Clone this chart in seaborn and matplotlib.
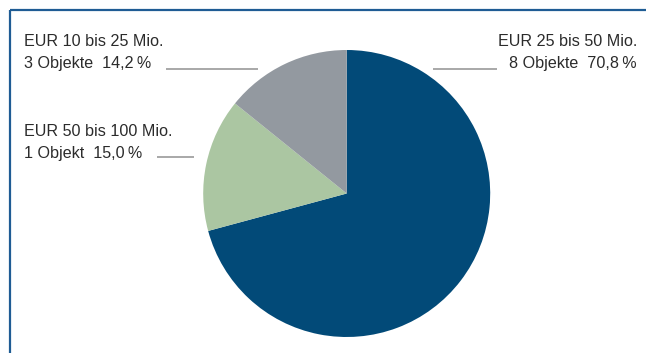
import matplotlib
matplotlib.use("Agg")
import matplotlib.pyplot as plt
import seaborn as sns

# Style
sns.set_theme(style="white")
plt.rcParams['font.family'] = ['Liberation Sans', 'DejaVu Sans']

# Data
categories = ["EUR 25 bis 50 Mio.", "EUR 50 bis 100 Mio.", "EUR 10 bis 25 Mio."]
objects = ["8 Objekte", "1 Objekt", "3 Objekte"]
shares = [70.8, 15.0, 14.2]
colors = ["#024a78", "#abc6a2", "#9399a0"]

W, H = 646, 353
fig = plt.figure(figsize=(W / 100, H / 100), dpi=100)
ax = fig.add_axes([0, 0, 1, 1])

# pie in pixel coordinates (y measured from bottom)
ax.pie(shares, colors=colors, startangle=90, counterclock=False,
       center=(346.7, H - 193.5), radius=143.5,
       wedgeprops=dict(linewidth=0))
ax.set_xlim(0, W)
ax.set_ylim(0, H)
ax.set_aspect('auto')
ax.axis('off')

# frame lines (top and left)
frame_col = "#1f5c94"
ax.plot([9.5, W], [H - 9.5, H - 9.5], color=frame_col, lw=1.6, solid_capstyle='butt')
ax.plot([9.5, 9.5], [0, H - 9.5], color=frame_col, lw=1.6, solid_capstyle='butt')


def label_text(i):
    pct = f"{shares[i]:.1f}".replace('.', ',')
    return f"{categories[i]}\n{objects[i]}  {pct}\u2009%"


txt_kw = dict(fontsize=11.6, color="#2b2b2b", linespacing=1.55, va='baseline')
line_kw = dict(color="#9a9a9a", lw=1.2, solid_capstyle='butt')

# EUR 25 bis 50 Mio. (right)
ax.text(637, H - 68, label_text(0), ha='right', multialignment='right', **txt_kw)
ax.plot([433, 497], [H - 68.5, H - 68.5], **line_kw)

# EUR 50 bis 100 Mio. (left, lower)
ax.text(24, H - 158, label_text(1), ha='left', **txt_kw)
ax.plot([157, 194], [H - 157, H - 157], **line_kw)

# EUR 10 bis 25 Mio. (left, upper)
ax.text(24, H - 68, label_text(2), ha='left', **txt_kw)
ax.plot([166, 258], [H - 69, H - 69], **line_kw)

fig.savefig("out.png", dpi=100)
